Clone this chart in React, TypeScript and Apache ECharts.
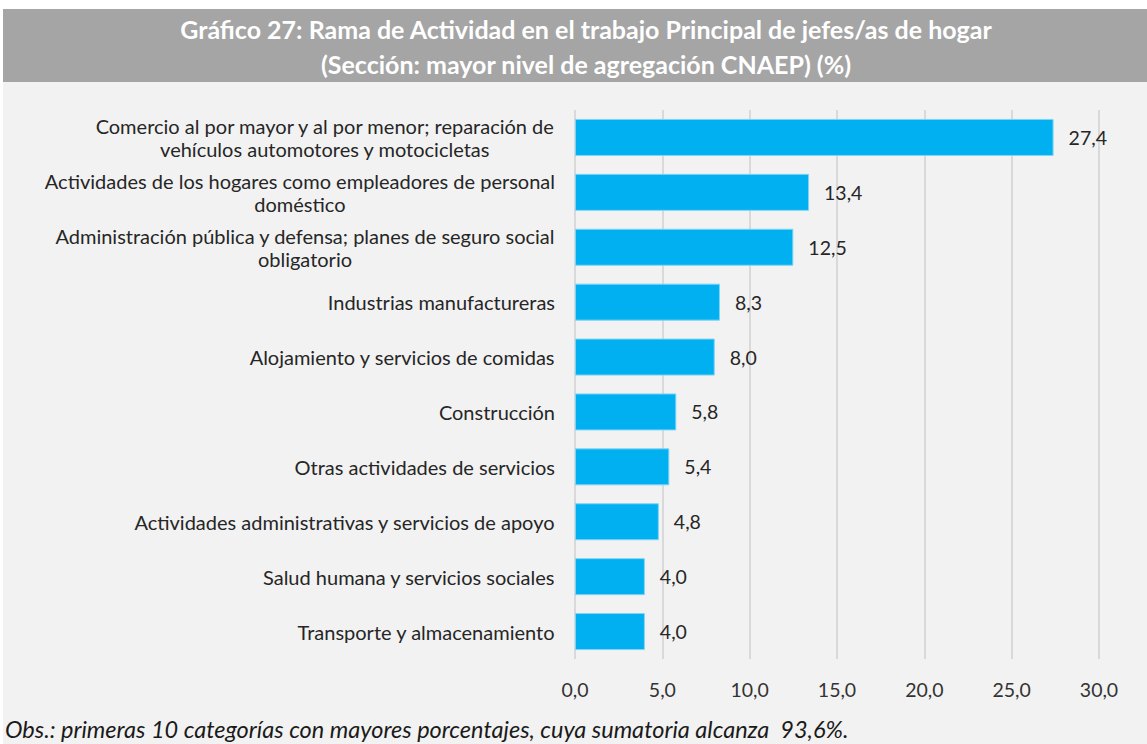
import React, { useEffect, useRef } from "react";
import * as echarts from "echarts";

const categories: string[] = [
  "Comercio al por mayor y al por menor; reparación de\nvehículos automotores y motocicletas",
  "Actividades de los hogares como empleadores de personal\ndoméstico",
  "Administración pública y defensa; planes de seguro social\nobligatorio",
  "Industrias manufactureras",
  "Alojamiento y servicios de comidas",
  "Construcción",
  "Otras actividades de servicios",
  "Actividades administrativas y servicios de apoyo",
  "Salud humana y servicios sociales",
  "Transporte y almacenamiento",
];
const values: number[] = [27.4, 13.4, 12.5, 8.3, 8.0, 5.8, 5.4, 4.8, 4.0, 4.0];
const xTicks = { min: 0, max: 30, interval: 5 };

const titleLines = [
  "Gráfico 27: Rama de Actividad en el trabajo Principal de jefes/as de hogar",
  "(Sección: mayor nivel de agregación CNAEP) (%)",
];
const footnote =
  "Obs.: primeras 10 categorías con mayores porcentajes, cuya sumatoria alcanza  93,6%.";

const FONT = "Lato";
const fmt = (v: number) => v.toFixed(1).replace(".", ",");

export default function App() {
  const ref = useRef<HTMLDivElement>(null);
  useEffect(() => {
    if (!ref.current) return;
    const chart = echarts.init(ref.current, null, { renderer: "svg" });
    chart.setOption({
      animation: false,
      backgroundColor: "#ffffff",
      textStyle: { fontFamily: FONT },
      graphic: [
        {
          type: "rect",
          left: 3,
          top: 82,
          shape: { width: 1144, height: 662 },
          style: { fill: "#f2f2f2" },
          z: -10,
        },
        {
          type: "rect",
          left: 3,
          top: 9,
          shape: { width: 1144, height: 73 },
          style: { fill: "#a5a5a5" },
          z: -10,
        },
        {
          type: "text",
          x: 586,
          y: 29,
          style: {
            text: titleLines[0],
            fill: "#ffffff",
            font: `bold 25px ${FONT}`,
            textAlign: "center",
            textVerticalAlign: "middle",
          },
        },
        {
          type: "text",
          x: 586,
          y: 64,
          style: {
            text: titleLines[1],
            fill: "#ffffff",
            font: `bold 25px ${FONT}`,
            textAlign: "center",
            textVerticalAlign: "middle",
          },
        },
        {
          type: "text",
          x: 5,
          y: 729,
          style: {
            text: footnote,
            fill: "#1a1a1a",
            font: `italic 23.5px ${FONT}`,
            textAlign: "left",
            textVerticalAlign: "middle",
          },
        },
      ],
      grid: { left: 575, right: 48, top: 110, bottom: 85, containLabel: false },
      xAxis: {
        type: "value",
        min: xTicks.min,
        max: xTicks.max,
        interval: xTicks.interval,
        axisLine: { show: false },
        axisTick: { show: false },
        splitLine: { show: true, lineStyle: { color: "#d9d9d9", width: 2 } },
        axisLabel: {
          margin: 20,
          fontSize: 19.5,
          color: "#333333",
          fontFamily: FONT,
          formatter: (v: number) => fmt(v),
        },
      },
      yAxis: {
        type: "category",
        inverse: true,
        data: categories,
        axisLine: { show: false },
        axisTick: { show: false },
        axisLabel: {
          margin: 20,
          fontSize: 20,
          color: "#262626",
          fontFamily: FONT,
          formatter: (v: string) =>
            v
              .split("\n")
              .map((s) => `{c|${s}}`)
              .join("\n"),
          rich: {
            c: {
              align: "center",
              fontSize: 20,
              lineHeight: 23,
              color: "#262626",
              fontFamily: FONT,
            },
          },
        },
      },
      series: [
        {
          type: "bar",
          data: values,
          barWidth: 37,
          itemStyle: { color: "#00b0f0", borderColor: "#7fd4f5", borderWidth: 1 },
          label: {
            show: true,
            position: "right",
            distance: 15,
            fontSize: 19.5,
            color: "#262626",
            fontFamily: FONT,
            formatter: (p: any) => fmt(p.value),
          },
        },
      ],
    });
    return () => chart.dispose();
  }, []);
  return (
    <div
      ref={ref}
      style={{ position: "absolute", left: 0, top: 0, width: 1147, height: 744 }}
    />
  );
}
